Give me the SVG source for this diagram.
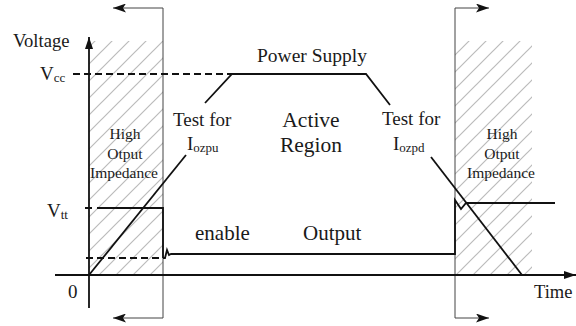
<svg xmlns="http://www.w3.org/2000/svg" width="576" height="326" viewBox="0 0 576 326">
<style>
.thin{stroke:#444;stroke-width:1;fill:none}
.wave{stroke:#111;stroke-width:1.8;fill:none}
.axis{stroke:#111;stroke-width:1.8;fill:none}
.dash{stroke:#111;stroke-width:1.8;fill:none;stroke-dasharray:7,4}
.sub{font-size:13px}
</style>
<defs>
<pattern id="hatch" width="17" height="17" patternUnits="userSpaceOnUse">
<path d="M-4,4 L4,-4 M0,17 L17,0 M13,21 L21,13" stroke="#bbb" stroke-width="1.2"/>
</pattern>
<marker id="ah" viewBox="0 0 12 8" refX="12" refY="4" markerWidth="12" markerHeight="8" markerUnits="userSpaceOnUse" orient="auto">
<path d="M0,0 L12,4 L0,8 Z" fill="#111"/>
</marker>
<marker id="ah2" viewBox="0 0 13 9" refX="13" refY="4.5" markerWidth="13" markerHeight="9" markerUnits="userSpaceOnUse" orient="auto">
<path d="M0,0 L13,4.5 L0,9 L3,4.5 Z" fill="#111"/>
</marker>
</defs>
<g id="hatch-left" font-family="Liberation Serif, DejaVu Serif, serif" fill="#1a1a1a">
<rect x="89" y="41" width="74" height="234" fill="url(#hatch)"/>
<text x="125" y="139" font-size="15.5" text-anchor="middle">High</text>
<text x="125" y="159" font-size="15.5" text-anchor="middle">Otput</text>
<text x="124" y="178" font-size="15.5" text-anchor="middle">Impedance</text>
</g>
<g id="hatch-right" font-family="Liberation Serif, DejaVu Serif, serif" fill="#1a1a1a">
<rect x="455" y="41" width="77" height="234" fill="url(#hatch)"/>
<text x="502" y="139" font-size="15.5" text-anchor="middle">High</text>
<text x="502" y="159" font-size="15.5" text-anchor="middle">Otput</text>
<text x="501" y="178" font-size="15.5" text-anchor="middle">Impedance</text>
</g>
<g id="connectors">
<path class="thin" d="M163,318 L163,8 L113,8" marker-end="url(#ah2)"/>
<path class="thin" d="M163,318 L113,318" marker-end="url(#ah2)"/>
<path class="thin" d="M455,318 L455,8 L489,8" marker-end="url(#ah2)"/>
<path class="thin" d="M455,318 L489,318" marker-end="url(#ah2)"/>
<path class="axis" d="M89,308 L89,37" marker-end="url(#ah)"/>
<path class="axis" d="M55,275 L576,275" marker-end="url(#ah)"/>
<path class="dash" d="M73,74 L232,74"/>
<path class="wave" d="M205,103 L232,74 L366,74 L390,105"/>
<path class="wave" d="M85,208 L92,208 M97,208 L163,208 L163,258"/>
<path class="dash" d="M86,258 L163,258"/>
<path class="wave" d="M163,258 L165,258 L167,250 L169,255 L171,254 L455,254 L455,200 L461,209 L466,203 L555,203"/>
<path class="wave" d="M89,275 L186,155"/>
<path class="wave" d="M431,157 L522,275"/>
</g>
<g id="labels" font-family="Liberation Serif, DejaVu Serif, serif" fill="#1a1a1a">
<text x="13" y="47" font-size="18.6">Voltage</text>
<text x="40" y="80" font-size="19">V<tspan class="sub" dy="2">cc</tspan></text>
<text x="47" y="217" font-size="19">V<tspan class="sub" dy="2">tt</tspan></text>
<text x="68" y="298" font-size="19">0</text>
<text x="534" y="298" font-size="18.5">Time</text>
<text x="257" y="62" font-size="19.5">Power Supply</text>
<text x="173" y="126" font-size="19">Test for</text>
<text x="187" y="150" font-size="19">I<tspan class="sub" dy="2">ozpu</tspan></text>
<text x="311" y="127" font-size="21.5" text-anchor="middle">Active</text>
<text x="311" y="152" font-size="21.5" text-anchor="middle">Region</text>
<text x="382" y="125" font-size="19">Test for</text>
<text x="393" y="150" font-size="19">I<tspan class="sub" dy="2">ozpd</tspan></text>
<text x="195" y="240" font-size="21">enable</text>
<text x="303" y="240" font-size="21">Output</text>
</g>
</svg>
